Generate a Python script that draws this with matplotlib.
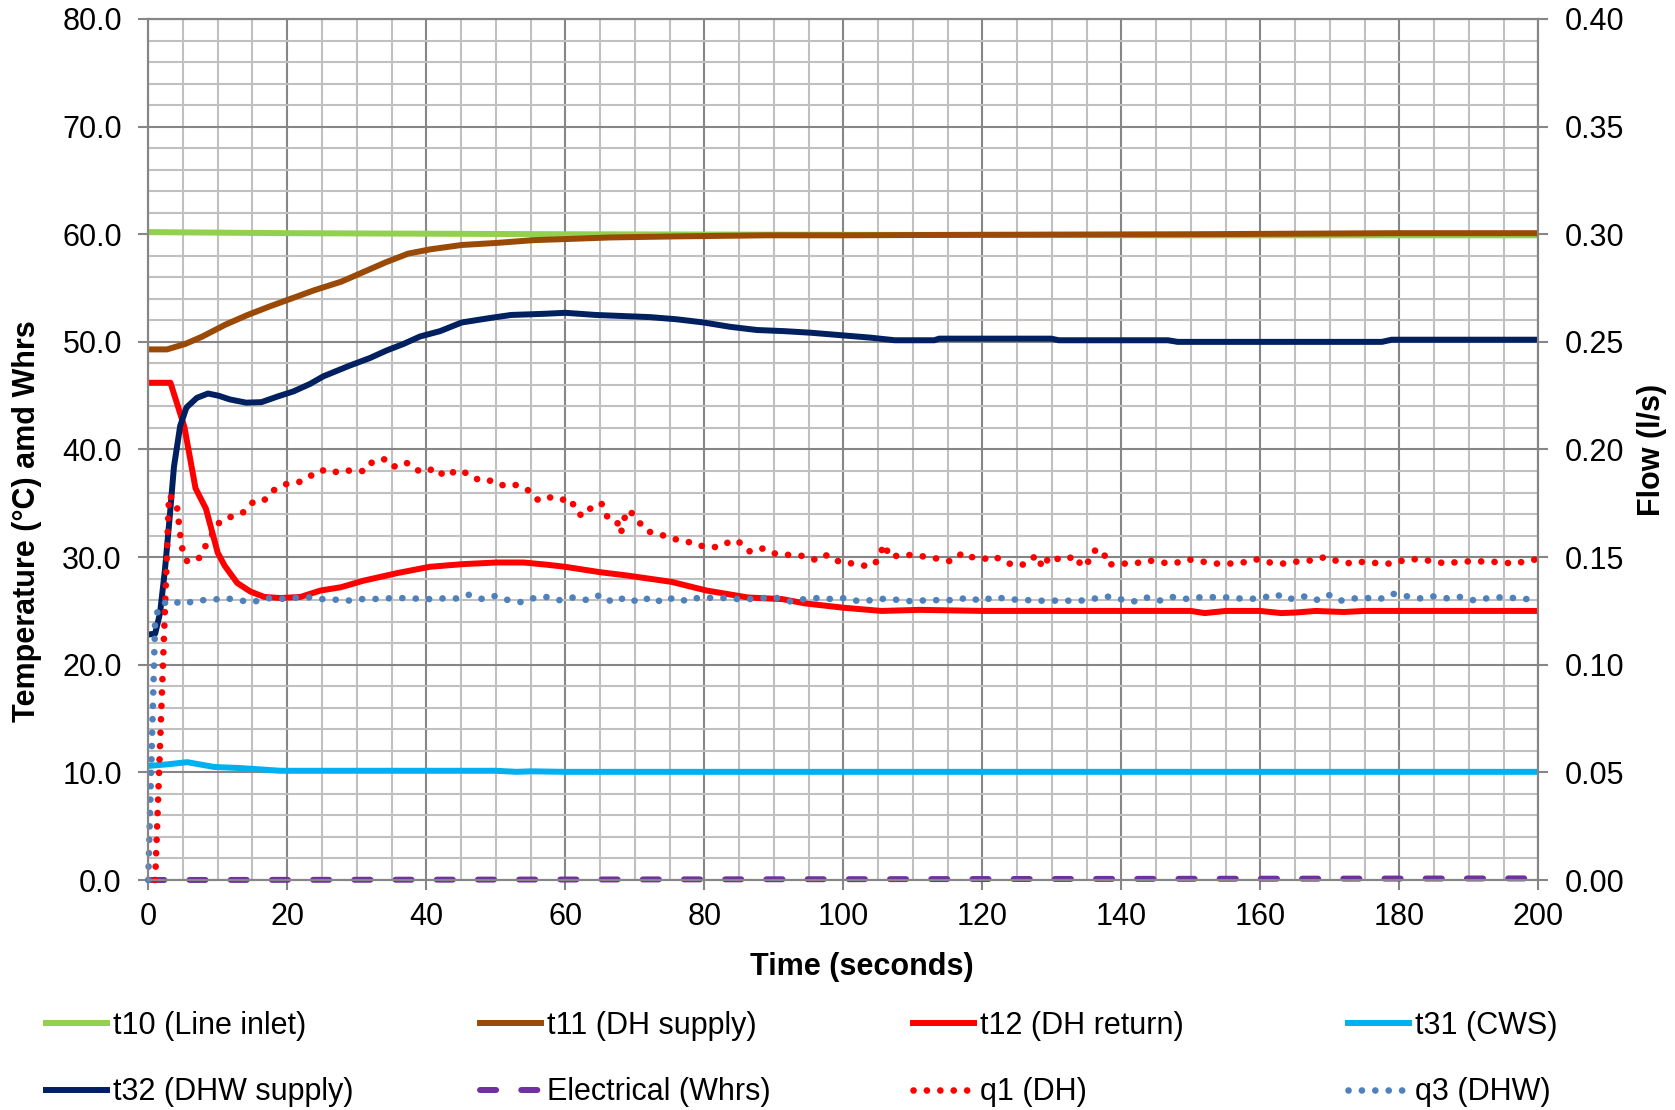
import matplotlib.pyplot as plt
from matplotlib.ticker import MultipleLocator, FormatStrFormatter

plt.rcParams['font.family'] = ['Liberation Sans', 'DejaVu Sans']

# Temperaturen (°C) auf der linken Achse
t10_time = [0, 10, 20, 40, 60, 100, 150, 200]
t10_temp = [60.2, 60.15, 60.1, 60.05, 60.0, 59.95, 59.9, 59.9]

t11_time = [0, 2.7, 5.3, 7.8, 11.1, 14.3, 17.5, 20.7, 23.9, 27.8, 31, 34.2, 37.4, 40.6,
            45.1, 50.3, 55.4, 60, 66.4, 76, 89, 100, 120, 150, 180, 200]
t11_temp = [49.3, 49.3, 49.8, 50.5, 51.6, 52.5, 53.3, 54.05, 54.8, 55.6, 56.5, 57.4, 58.2, 58.6,
            59.0, 59.2, 59.45, 59.55, 59.7, 59.8, 59.9, 59.9, 59.95, 60.0, 60.1, 60.1]

t12_time = [0, 3.2, 5.2, 6.8, 8.3, 10, 11, 12.8, 14.7, 16.7, 19, 21.9, 24.8, 27.7, 30.9, 35.7,
            40.5, 45.3, 50.1, 54, 57.3, 60, 65, 68.8, 75.3, 80.3, 86.3, 91.2, 94.5, 100, 105.5,
            111, 120, 130, 140, 150, 152, 155, 160, 163, 165, 168, 172, 175, 200]
t12_temp = [46.2, 46.2, 42.1, 36.4, 34.5, 30.4, 29.2, 27.6, 26.8, 26.3, 26.2, 26.3, 26.9, 27.2, 27.8, 28.5,
            29.1, 29.35, 29.5, 29.5, 29.3, 29.1, 28.6, 28.3, 27.7, 26.9, 26.25, 26.1, 25.7, 25.3, 25.0,
            25.1, 25.0, 25.0, 25.0, 25.0, 24.8, 25.0, 25.0, 24.8, 24.85, 25.0, 24.9, 25.0, 25.0]

t31_time = [0, 2.8, 5.6, 9.5, 13.3, 19, 30, 50, 53, 55, 60, 200]
t31_temp = [10.6, 10.75, 10.95, 10.5, 10.4, 10.15, 10.15, 10.15, 10.05, 10.1, 10.05, 10.05]

t32_time = [0, 1, 1.7, 2.4, 3.1, 3.7, 4.6, 5.5, 7, 8.6, 10.1, 11.75, 14.1, 16.3, 18.5, 20.9, 23.3,
            25.2, 27.1, 29, 31.9, 34.3, 36.7, 39.1, 42, 45.1, 49, 52.2, 56.7, 60, 64.4, 68.3, 72.2,
            76, 79.9, 83.7, 87.6, 91.4, 95.3, 100, 103.8, 107.4, 113.1, 113.8, 129.9, 131, 146.7,
            148.1, 177.5, 178.9, 200]
t32_temp = [22.8, 22.9, 24.8, 28.8, 33.8, 38.4, 42.2, 43.9, 44.8, 45.2, 45.0, 44.65, 44.35, 44.4, 44.9,
            45.4, 46.1, 46.8, 47.3, 47.8, 48.5, 49.2, 49.8, 50.5, 51.0, 51.8, 52.2, 52.5, 52.6, 52.7,
            52.5, 52.4, 52.3, 52.1, 51.8, 51.4, 51.1, 51.0, 50.85, 50.6, 50.4, 50.15, 50.15, 50.3,
            50.3, 50.15, 50.15, 50.0, 50.0, 50.2, 50.2]

elec_time = [0, 200]
elec_whrs = [0.0, 0.15]

# Durchfluss (l/s) auf der rechten Achse
q1_time = [1.0, 3.0, 4.1, 4.6, 4.9, 5.6, 7.2, 8.3, 9.2, 10.3, 12.1, 13.8, 15.2, 16.7, 18.0, 19.9,
           21.8, 23.5, 24.9, 26.5, 27.7, 29.5, 31.2, 32.3, 34.1, 35.3, 37.1, 38.5, 40.0, 41.2,
           42.7, 44.5, 46.2, 47.7, 49.5, 51.3, 52.9, 54.7, 56.1, 57.6, 58.8, 60.8, 61.6, 62.5,
           63.9, 65.2, 66.0, 67.4, 68.0, 68.5, 69.2, 70.4, 71.8, 73.7, 75.5, 77.3, 79.1, 81.0,
           82.4, 84.1, 85.3, 86.6, 88.4, 90.3, 92.3, 94.4, 96.2, 97.7, 99.6, 101.6, 103.1, 104.5,
           105.3, 105.9, 106.7, 108.3, 110.1, 112.2, 114.1, 115.5, 117.2, 118.5, 120.1, 121.7,
           123.3, 125.1, 126.4, 127.8, 128.7, 129.7, 131.4, 133.5, 134.3, 135.0, 136.1, 137.4,
           138.0, 139.9, 141.9, 143.9, 145.7, 147.6, 149.5, 151.5, 153.5, 155.6, 157.5, 159.3,
           161.4, 163.4, 165.4, 167.4, 169.3, 171.2, 173.2, 175.1, 177.1, 179.0, 181.1, 183.0,
           184.9, 186.8, 188.9, 190.9, 192.8, 194.7, 196.7, 198.6, 200.0]
q1_flow = [0.000, 0.179, 0.1745, 0.1605, 0.154, 0.148, 0.149, 0.1555, 0.1605, 0.1665, 0.169, 0.171,
           0.176, 0.1765, 0.181, 0.184, 0.185, 0.188, 0.1905, 0.189, 0.1905, 0.190, 0.190, 0.1945,
           0.1955, 0.192, 0.194, 0.1905, 0.1895, 0.1915, 0.1875, 0.1905, 0.1885, 0.1855, 0.1855,
           0.183, 0.1835, 0.181, 0.1765, 0.178, 0.1765, 0.177, 0.171, 0.169, 0.1735, 0.175, 0.169,
           0.167, 0.161, 0.168, 0.172, 0.167, 0.162, 0.1605, 0.1585, 0.1575, 0.1555, 0.1545, 0.155,
           0.158, 0.1565, 0.1525, 0.154, 0.1515, 0.151, 0.1505, 0.1485, 0.151, 0.1475, 0.147, 0.146,
           0.1465, 0.1515, 0.156, 0.150, 0.151, 0.151, 0.150, 0.149, 0.148, 0.152, 0.150, 0.149,
           0.1505, 0.1475, 0.146, 0.147, 0.151, 0.145, 0.1505, 0.1485, 0.1505, 0.1455, 0.1465,
           0.153, 0.153, 0.1465, 0.147, 0.147, 0.1485, 0.1475, 0.147, 0.149, 0.148, 0.147, 0.147,
           0.1475, 0.149, 0.1475, 0.147, 0.148, 0.1485, 0.150, 0.148, 0.147, 0.148, 0.147, 0.147,
           0.149, 0.149, 0.148, 0.147, 0.148, 0.148, 0.148, 0.1475, 0.147, 0.1485, 0.149]

q3_time = [0, 1.0, 1.6, 3.2, 5.0, 6.9, 9.0, 11.0, 13.0, 15.0, 16.9, 18.8, 20.7, 22.7, 24.8, 26.5,
           28.2, 30.2, 32.2, 34.1, 36.1, 38.1, 40.2, 42.3, 44.3, 46.1, 48.1, 50.0, 51.8, 53.8,
           55.5, 57.5, 59.2, 61.2, 63.2, 65.1, 66.8, 68.7, 70.6, 72.4, 73.9, 75.7, 77.5, 79.3,
           81.3, 83.1, 84.9, 86.5, 88.4, 90.5, 92.5, 94.4, 96.4, 98.4, 100.3, 102.2, 104.2, 106.2,
           108.1, 109.9, 112.1, 114.1, 116.1, 118.1, 119.8, 121.7, 123.7, 125.9, 127.7, 129.4,
           131.3, 133.5, 135.8, 137.8, 139.8, 141.7, 143.5, 145.5, 147.3, 149.0, 150.7, 152.4,
           154.3, 156.2, 158.2, 160.3, 162.2, 164.0, 166.0, 168.0, 169.8, 171.6, 173.4, 175.4,
           177.2, 179.0, 181.1, 183.1, 185.0, 187.0, 188.7, 190.5, 192.5, 194.5, 196.5, 198.4, 200.0]
q3_flow = [0.000, 0.121, 0.1275, 0.130, 0.128, 0.130, 0.130, 0.131, 0.130, 0.129, 0.131, 0.1305,
           0.131, 0.1315, 0.1305, 0.1305, 0.1295, 0.1305, 0.1305, 0.1308, 0.131, 0.1308, 0.1305,
           0.1308, 0.1308, 0.1325, 0.1305, 0.132, 0.130, 0.129, 0.131, 0.1315, 0.130, 0.1313,
           0.130, 0.1325, 0.129, 0.1313, 0.129, 0.1315, 0.129, 0.1313, 0.1295, 0.1313, 0.131,
           0.131, 0.1305, 0.1305, 0.131, 0.131, 0.1293, 0.1305, 0.131, 0.1305, 0.131, 0.1295,
           0.130, 0.1308, 0.130, 0.1295, 0.130, 0.130, 0.130, 0.1313, 0.1295, 0.1315, 0.1305,
           0.130, 0.130, 0.1295, 0.130, 0.1295, 0.1305, 0.1318, 0.1305, 0.1293, 0.1313, 0.1298,
           0.1315, 0.1305, 0.1313, 0.1313, 0.1315, 0.131, 0.1305, 0.131, 0.1328, 0.1303, 0.132,
           0.130, 0.1325, 0.1298, 0.1308, 0.131, 0.1305, 0.133, 0.1318, 0.1308, 0.1318, 0.1308,
           0.1315, 0.130, 0.1308, 0.1313, 0.131, 0.1305, 0.1308]

# Farben wie im Excel-Diagramm
grau_major = '#868686'
grau_minor = '#c0c0c0'
lw = 4.3
fs = 22

fig = plt.figure(figsize=(16.75, 11.1), dpi=100)
ax = fig.add_axes([0.0885, 0.2072, 0.8299, 0.7757])
ax2 = ax.twinx()

h_t10, = ax.plot(t10_time, t10_temp, color='#92d050', lw=lw, label='t10 (Line inlet)')
h_t11, = ax.plot(t11_time, t11_temp, color='#9a4a06', lw=lw, label='t11 (DH supply)')
h_t12, = ax.plot(t12_time, t12_temp, color='#ff0000', lw=lw, label='t12 (DH return)')
h_t31, = ax.plot(t31_time, t31_temp, color='#00b0f0', lw=lw, label='t31 (CWS)')
h_t32, = ax.plot(t32_time, t32_temp, color='#002060', lw=lw, label='t32 (DHW supply)')
h_el, = ax.plot(elec_time, elec_whrs, color='#7030a0', lw=lw, dashes=(2.7, 4.2),
                dash_capstyle='round', label='Electrical (Whrs)', clip_on=False)

h_q1, = ax2.plot(q1_time, q1_flow, color='#ff0000', lw=4.8, dashes=(0.01, 2.0),
                 dash_capstyle='round', label='q1 (DH)', clip_on=False)
h_q3, = ax2.plot(q3_time, q3_flow, color='#4f81bd', lw=4.8, dashes=(0.01, 2.0),
                 dash_capstyle='round', label='q3 (DHW)', clip_on=False)

# Achsen
ax.set_xlim(0, 200)
ax.set_ylim(0, 80)
ax2.set_ylim(0, 0.4)
ax.xaxis.set_major_locator(MultipleLocator(20))
ax.xaxis.set_minor_locator(MultipleLocator(5))
ax.yaxis.set_major_locator(MultipleLocator(10))
ax.yaxis.set_minor_locator(MultipleLocator(2))
ax.yaxis.set_major_formatter(FormatStrFormatter('%.1f'))
ax2.yaxis.set_major_locator(MultipleLocator(0.05))
ax2.yaxis.set_major_formatter(FormatStrFormatter('%.2f'))

ax.grid(which='major', color=grau_major, lw=1.5)
ax.grid(which='minor', color=grau_minor, lw=1.5)
ax.set_axisbelow(True)

for a in (ax, ax2):
    for s in a.spines.values():
        s.set_color(grau_major)
        s.set_linewidth(1.5)
    a.tick_params(which='major', direction='out', length=7, width=1.5, color=grau_major,
                  labelsize=fs, labelcolor='black')
    a.tick_params(which='minor', length=0)
ax.tick_params(axis='y', pad=12)
ax.tick_params(axis='x', pad=9)
ax2.tick_params(axis='y', pad=12)

ax.set_xlabel('Time (seconds)', fontsize=fs, fontweight='bold', va='center')
ax.xaxis.set_label_coords(0.5135, -0.101)
ax.set_ylabel('Temperature (°C) amd Whrs', fontsize=fs, fontweight='bold', va='center')
ax.yaxis.set_label_coords(-0.0875, 0.4166)
ax2.set_ylabel('Flow (l/s)', fontsize=fs, fontweight='bold', va='center')
ax2.yaxis.set_label_coords(1.0818, 0.5)

# Legende: vier Spalten mit gleichem Abstand
spalten = [(h_t10, h_t32), (h_t11, h_el), (h_t12, h_q1), (h_t31, h_q3)]
spalten_x = [46 / 1675, 480 / 1675, 913 / 1675, 1348 / 1675]
for handles, x in zip(spalten, spalten_x):
    leg = fig.legend(handles=list(handles), loc='center left', bbox_to_anchor=(x, 0.0458),
                     frameon=False, fontsize=fs, borderpad=0, borderaxespad=0,
                     handlelength=2.0, handletextpad=0.2, labelspacing=1.2)

fig.savefig('out.png', dpi=100)
